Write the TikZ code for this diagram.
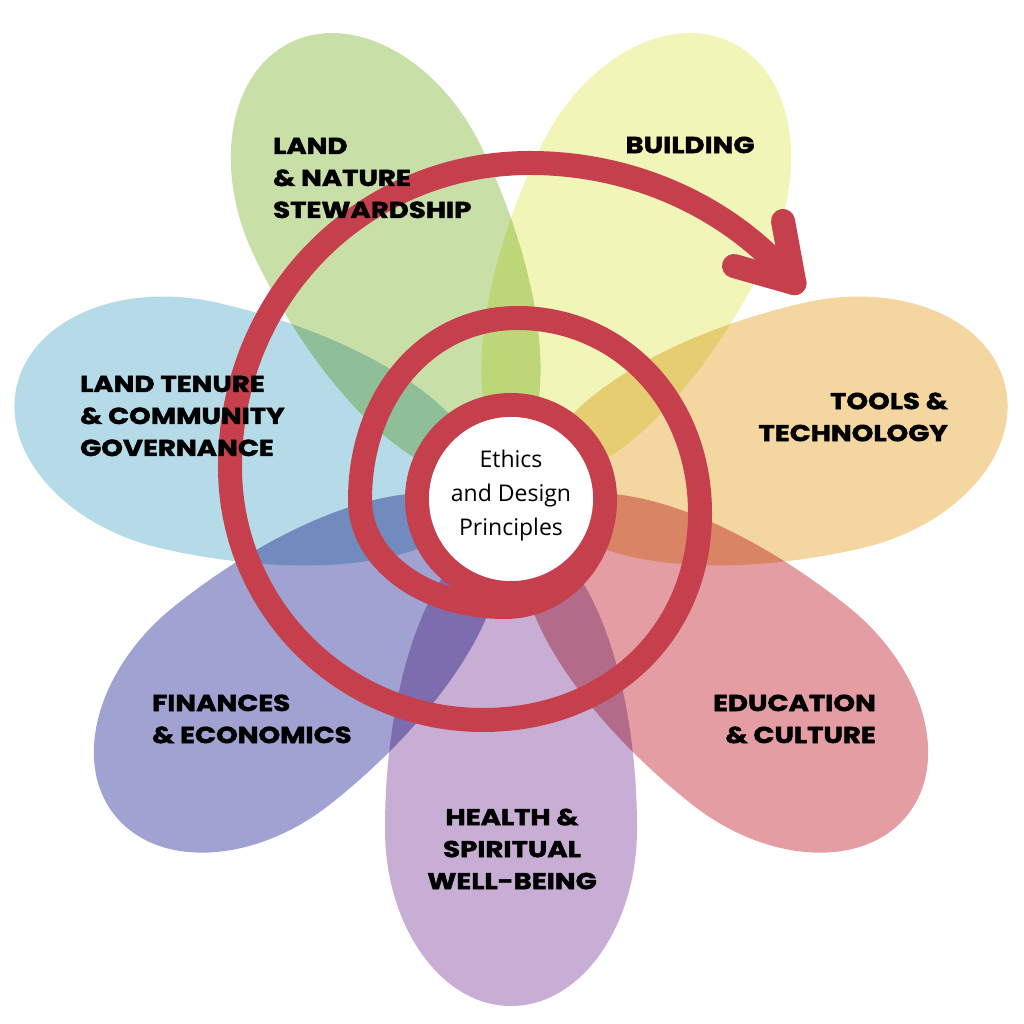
\documentclass[tikz,border=0pt]{standalone}
\usepackage{fontspec}
\usepackage{tikz}
\newfontfamily\petalfont{Poppins}[FakeStretch=1.2, FakeBold=2]
\newfontfamily\handfont{Open Sans}
\definecolor{flgreen}{RGB}{200,223,168}
\definecolor{flyellow}{RGB}{241,245,183}
\definecolor{florange}{RGB}{244,214,160}
\definecolor{flred}{RGB}{228,158,163}
\definecolor{flpurple}{RGB}{200,173,213}
\definecolor{flviolet}{RGB}{160,162,210}
\definecolor{flblue}{RGB}{182,219,232}
\definecolor{flspiral}{RGB}{198,63,77}
\tikzset{
  petal/.style={fill=#1, draw=none},
  spiral/.style={draw=flspiral, line width=24pt, line join=round, line cap=round},
  hub/.style={circle, fill=white, minimum size=164pt, inner sep=0pt},
  hubtext/.style={font=\handfont\fontsize{23}{34}\selectfont, align=center, inner sep=0pt},
  plabel/.style={font=\petalfont\bfseries\fontsize{23}{32}\selectfont, inner sep=0pt, text=black}
}
\begin{document}
\begin{tikzpicture}[x=1pt,y=1pt]
  \useasboundingbox (0,0) rectangle (1024,1024);
  \fill[white] (0,0) rectangle (1024,1024);
  % seven petals round the centre
  \begin{scope}[blend mode=multiply]
    \foreach \ang/\col in {-90/flpurple, -38.57/flred, 12.86/florange, 64.29/flyellow,
                           115.71/flgreen, 167.14/flblue, 218.57/flviolet}
      \fill[petal=\col, shift={(511,525)}, rotate=\ang]
        (30,0) arc[start angle=180, end angle=90, x radius=300, y radius=126]
        arc[start angle=90, end angle=-90, x radius=177, y radius=126]
        arc[start angle=-90, end angle=-180, x radius=300, y radius=126] -- cycle;
  \end{scope}

  % spiral, from the inner ring outwards
  \draw[spiral] (511,525) circle[radius=94];
  \draw[spiral] (605,525)
    .. controls (605,465) and (560,417) .. (505,417)
    .. controls (424,417) and (360,464) .. (360,524)
    .. controls (360,628) and (427,706) .. (517,706)
    .. controls (621,706) and (700,622) .. (700,511)
    .. controls (700,391) and (609,304) .. (483,304)
    .. controls (343,304) and (230,417) .. (230,557)
    .. controls (230,727) and (362,861) .. (530,861)
    arc[start angle=90, end angle=37.2, x radius=332, y radius=304] coordinate (tip);
  \coordinate (barbA) at (734,758);
  \coordinate (barbB) at (783,803);
  \draw[spiral] (barbA) -- (tip) -- (barbB);

  \node[hub] (hub) at (511,525) {};
  \node[hubtext] (ethics) at (511,528) {Ethics\\and Design\\Principles};

  \node[plabel, anchor=west, align=left] (nature) at (273,846) {LAND\\\& NATURE\\STEWARDSHIP};
  \node[plabel] (building) at (690,879) {BUILDING};
  \node[plabel, anchor=east, align=right] (tools) at (948,607) {TOOLS \&\\TECHNOLOGY};
  \node[plabel, anchor=west, align=left] (tenure) at (80,608) {LAND TENURE\\\& COMMUNITY\\GOVERNANCE};
  \node[plabel, anchor=west, align=left] (finances) at (152,305) {FINANCES\\\& ECONOMICS};
  \node[plabel, anchor=east, align=right] (education) at (876,305) {EDUCATION\\\& CULTURE};
  \node[plabel, align=center] (health) at (512,175) {HEALTH \&\\SPIRITUAL\\WELL-BEING};
\end{tikzpicture}
\end{document}
